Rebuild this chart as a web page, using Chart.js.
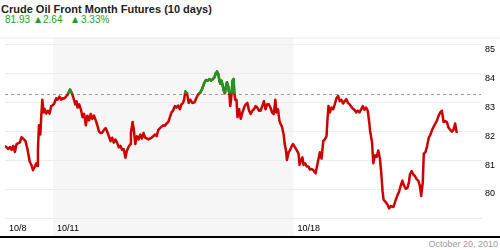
<!DOCTYPE html>
<html>
<head>
<meta charset="utf-8">
<script src="https://cdn.jsdelivr.net/npm/chart.js@4/dist/chart.umd.min.js"></script>
<style>
    body { margin: 0; width: 500px; height: 250px; background: #fff; position: relative; overflow: hidden; font-family: "Liberation Sans", Arial, sans-serif; }
    .title { position: absolute; left: 1px; top: 4px; font-size: 11px; line-height: 11px; font-weight: bold; color: #222; white-space: nowrap; }
    .quote { position: absolute; top: 15px; font-size: 10px; line-height: 10px; color: #22a022; white-space: nowrap; }
    .tri { position: absolute; top: 15px; font-size: 8px; line-height: 9px; color: #22a022; font-family: "DejaVu Sans", sans-serif; }
    #wrap { position: absolute; left: 0; top: 28px; width: 500px; height: 208px; }
    .rule { position: absolute; left: 0; top: 236px; width: 500px; height: 2px; background: #000; }
    .stamp { position: absolute; right: 2px; top: 240px; font-size: 9px; line-height: 9px; color: #999; white-space: nowrap; }
</style>
</head>
<body>
<div class="title">Crude Oil Front Month Futures (10 days)</div>
<div class="quote" style="left:5px">81.93</div>
<div class="tri" style="left:35px">▲</div>
<div class="quote" style="left:43px">2.64</div>
<div class="tri" style="left:72px">▲</div>
<div class="quote" style="left:81px">3.33%</div>
<div id="wrap"><canvas id="chart" width="500" height="208"></canvas></div>
<div class="rule"></div>
<div class="stamp">October 20, 2010</div>
<script>
// time in trading days since the 10/8 open, price in $/bbl
const times = [
    0.000, 0.068, 0.103, 0.138, 0.171, 0.206, 0.241, 0.309, 0.344, 0.377, 0.426, 0.467, 0.514, 0.549, 0.582, 0.617,
    0.652, 0.673, 0.685, 0.706, 0.735, 0.755, 0.776, 0.802, 0.823, 0.858, 0.891, 0.926, 0.961, 0.994, 1.029, 1.064,
    1.097, 1.132, 1.167, 1.200, 1.235, 1.270, 1.302, 1.352, 1.393, 1.426, 1.461, 1.488, 1.508, 1.543, 1.578, 1.611,
    1.646, 1.681, 1.714, 1.749, 1.784, 1.817, 1.852, 1.887, 1.920, 1.955, 1.990, 2.023, 2.058, 2.093, 2.126, 2.160,
    2.195, 2.228, 2.263, 2.298, 2.331, 2.366, 2.401, 2.434, 2.469, 2.504, 2.537, 2.572, 2.607, 2.619, 2.654, 2.675,
    2.710, 2.743, 2.778, 2.813, 2.846, 2.881, 2.916, 2.984, 3.051, 3.121, 3.154, 3.189, 3.224, 3.257, 3.292, 3.327,
    3.360, 3.395, 3.430, 3.463, 3.498, 3.533, 3.566, 3.601, 3.636, 3.669, 3.704, 3.724, 3.751, 3.786, 3.821, 3.854,
    3.895, 3.944, 3.977, 4.012, 4.060, 4.101, 4.150, 4.183, 4.218, 4.253, 4.286, 4.321, 4.356, 4.389, 4.409, 4.438,
    4.459, 4.479, 4.500, 4.527, 4.547, 4.574, 4.595, 4.615, 4.644, 4.665, 4.685, 4.712, 4.733, 4.753, 4.767, 4.788,
    4.815, 4.835, 4.870, 4.903, 4.938, 4.973, 5.006, 5.041, 5.076, 5.109, 5.144, 5.179, 5.212, 5.247, 5.282, 5.315,
    5.350, 5.385, 5.418, 5.453, 5.488, 5.521, 5.556, 5.591, 5.623, 5.644, 5.679, 5.706, 5.726, 5.761, 5.796, 5.817,
    5.844, 5.864, 5.899, 5.932, 5.967, 5.988, 6.014, 6.070, 6.105, 6.126, 6.158, 6.187, 6.208, 6.241, 6.276, 6.311,
    6.344, 6.379, 6.414, 6.461, 6.481, 6.516, 6.549, 6.584, 6.619, 6.652, 6.687, 6.708, 6.728, 6.755, 6.790, 6.825,
    6.858, 6.893, 6.928, 6.961, 6.996, 7.031, 7.064, 7.099, 7.134, 7.167, 7.202, 7.237, 7.270, 7.305, 7.340, 7.372,
    7.407, 7.442, 7.475, 7.510, 7.545, 7.578, 7.593, 7.634, 7.660, 7.695, 7.730, 7.763, 7.798, 7.825, 7.854, 7.874,
    7.922, 7.957, 7.990, 8.025, 8.080, 8.128, 8.163, 8.195, 8.230, 8.265, 8.298, 8.333, 8.368, 8.401, 8.422, 8.457,
    8.492, 8.525, 8.560, 8.595, 8.628, 8.656, 8.689, 8.710, 8.745, 8.780, 8.813, 8.848, 8.883, 8.916, 8.951, 8.986,
    9.019, 9.053, 9.088, 9.121, 9.156, 9.191, 9.224, 9.259, 9.294, 9.327, 9.362, 9.397
];
const prices = [
    81.49, 81.38, 81.45, 81.35, 81.49, 81.28, 81.55, 81.61, 81.79, 81.74, 81.65, 81.38, 80.95, 80.83, 80.65, 80.76,
    80.89, 80.79, 81.33, 82.20, 81.88, 82.53, 83.08, 82.64, 82.76, 82.60, 82.70, 82.60, 82.86, 82.89, 82.97, 83.13,
    83.08, 83.19, 83.08, 83.13, 83.12, 83.19, 83.25, 83.43, 83.30, 83.13, 82.92, 83.03, 82.81, 82.92, 82.75, 82.48,
    82.59, 82.20, 82.53, 82.37, 82.59, 82.42, 82.53, 82.37, 82.20, 81.98, 81.93, 81.95, 82.04, 82.10, 81.98, 81.82,
    81.65, 81.77, 81.60, 81.71, 81.60, 81.44, 81.49, 81.35, 81.38, 81.08, 81.33, 81.46, 81.55, 81.93, 82.31, 82.10,
    81.55, 81.82, 81.71, 81.88, 81.74, 81.93, 81.77, 81.71, 81.77, 81.88, 81.82, 82.04, 82.10, 82.15, 82.20, 82.18,
    82.26, 82.31, 82.48, 82.64, 82.72, 82.86, 82.81, 82.88, 82.75, 82.92, 82.97, 83.08, 83.36, 83.30, 82.97, 83.08,
    82.97, 82.99, 83.13, 83.25, 83.32, 83.46, 83.68, 83.76, 83.74, 83.79, 83.74, 83.79, 83.85, 84.01, 84.05, 83.96,
    83.74, 83.63, 83.74, 83.58, 83.41, 83.30, 83.52, 83.68, 83.52, 83.30, 82.86, 83.25, 83.74, 83.79, 83.36, 83.08,
    83.08, 82.48, 82.75, 82.42, 82.64, 82.81, 82.92, 82.97, 82.70, 82.59, 82.70, 82.75, 82.86, 82.81, 82.70, 82.70,
    82.86, 83.03, 82.75, 82.92, 82.92, 82.81, 82.64, 82.59, 83.08, 82.64, 82.75, 82.37, 82.26, 82.15, 81.88, 81.55,
    81.33, 81.00, 81.27, 81.35, 81.49, 81.55, 81.49, 81.33, 81.22, 80.83, 81.00, 81.09, 80.83, 80.89, 80.78, 80.78,
    80.67, 80.69, 80.65, 80.54, 80.72, 81.00, 81.27, 81.05, 81.65, 81.71, 81.82, 82.42, 82.86, 82.64, 82.81, 82.75,
    82.92, 83.13, 83.21, 83.03, 83.08, 82.95, 83.03, 83.10, 82.97, 82.92, 82.84, 82.77, 82.73, 82.64, 82.70, 82.64,
    82.75, 82.86, 82.73, 82.81, 82.70, 82.26, 82.01, 81.60, 80.89, 81.16, 81.11, 81.33, 81.05, 80.56, 79.90, 79.63,
    79.54, 79.46, 79.33, 79.41, 79.38, 79.63, 79.79, 79.90, 80.12, 80.29, 80.12, 80.01, 80.03, 80.23, 80.50, 80.62,
    80.50, 80.45, 80.34, 80.29, 80.12, 79.76, 80.23, 81.22, 81.27, 81.49, 81.77, 81.88, 82.04, 82.15, 82.26, 82.37,
    82.53, 82.64, 82.70, 82.31, 82.34, 82.31, 82.12, 82.04, 81.98, 82.04, 82.26, 81.93
];
const refPrice = 83.29;          // dotted reference level
const tickDays = [0, 1, 6];
const tickLabels = ['10/8', '10/11', '10/18'];
const yTicks = [80, 81, 82, 83, 84, 85];
const shadeDays = [1, 6];        // week of 10/11 - 10/15
const xMax = 9.9;
const yMin = 79, yMax = 85.23;

const RED = '#cc0000';
const GREEN = '#1a9a1a';

const points = times.map((t, i) => ({ x: t, y: prices[i] }));

// Shading, top rule, dotted reference and green clip above it
const decor = {
    id: 'decor',
    beforeDraw(chart) {
        const { ctx, chartArea, scales: { x } } = chart;
        const x0 = x.getPixelForValue(shadeDays[0]);
        const x1 = x.getPixelForValue(shadeDays[1]);
        ctx.save();
        ctx.fillStyle = '#f6f6f6';
        ctx.fillRect(x0, chartArea.top, x1 - x0, chart.height - chartArea.top);
        ctx.strokeStyle = '#ececec';
        ctx.lineWidth = 1;
        ctx.beginPath();
        ctx.moveTo(0, chartArea.top + 0.5);
        ctx.lineTo(chart.width, chartArea.top + 0.5);
        ctx.stroke();
        ctx.restore();
    },
    beforeDatasetsDraw(chart) {
        const { ctx, chartArea, scales: { y } } = chart;
        const yr = Math.round(y.getPixelForValue(refPrice)) + 0.5;
        ctx.save();
        ctx.strokeStyle = '#999';
        ctx.lineWidth = 1;
        ctx.setLineDash([3, 3]);
        ctx.beginPath();
        ctx.moveTo(chartArea.left, yr);
        ctx.lineTo(chartArea.right, yr);
        ctx.stroke();
        ctx.restore();
    },
    beforeDatasetDraw(chart, args) {
        if (args.index !== 0) return;
        const { ctx, chartArea, scales: { y } } = chart;
        const yr = y.getPixelForValue(refPrice);
        ctx.save();
        ctx.beginPath();
        ctx.rect(chartArea.left, 0, chartArea.width, yr);
        ctx.clip();
    },
    afterDatasetDraw(chart, args) {
        if (args.index !== 0) return;
        chart.ctx.restore();
    }
};

new Chart(document.getElementById('chart'), {
    type: 'line',
    data: {
        datasets: [
            { data: points, borderColor: GREEN, borderWidth: 2.5, pointRadius: 0, tension: 0, borderJoinStyle: 'round' },
            { data: points, borderColor: RED, borderWidth: 2.5, pointRadius: 0, tension: 0, borderJoinStyle: 'round' }
        ]
    },
    options: {
        responsive: false,
        animation: false,
        devicePixelRatio: 1,
        layout: { padding: 0 },
        plugins: { legend: { display: false }, tooltip: { enabled: false } },
        scales: {
            x: {
                type: 'linear',
                min: 0,
                max: xMax,
                afterFit: (scale) => { scale.height = 18; },
                afterBuildTicks: (scale) => { scale.ticks = tickDays.map(v => ({ value: v })); },
                grid: { display: false, drawTicks: false },
                border: { display: true, color: '#ececec' },
                ticks: {
                    autoSkip: false,
                    maxRotation: 0,
                    align: 'start',
                    labelOffset: 4,
                    padding: 5,
                    color: '#000',
                    font: { family: '"Liberation Sans", Arial, sans-serif', size: 9 },
                    callback: (v) => tickLabels[tickDays.indexOf(v)]
                }
            },
            y: {
                position: 'right',
                min: yMin,
                max: yMax,
                afterFit: (scale) => { scale.width = 19; },
                afterBuildTicks: (scale) => { scale.ticks = yTicks.map(v => ({ value: v })); },
                grid: { color: '#ececec', drawTicks: false },
                border: { display: false },
                ticks: {
                    padding: 4,
                    labelOffset: 5,
                    color: '#000',
                    font: { family: '"Liberation Sans", Arial, sans-serif', size: 9 },
                    callback: (v) => String(v)
                }
            }
        }
    },
    plugins: [decor]
});
</script>
</body>
</html>
